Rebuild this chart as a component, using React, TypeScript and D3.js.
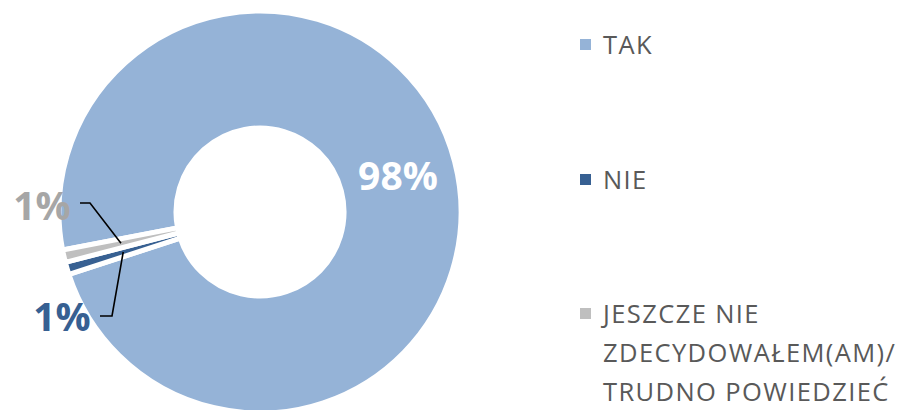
import React from "react";
import * as d3 from "d3";

const categories = ["TAK", "NIE", "JESZCZE NIE ZDECYDOWAŁEM(AM)/ TRUDNO POWIEDZIEĆ"];
const legendLines = [["TAK"], ["NIE"], ["JESZCZE NIE", "ZDECYDOWAŁEM(AM)/", "TRUDNO POWIEDZIEĆ"]];
const values = [98, 1, 1];
const labels = ["98%", "1%", "1%"];
const colors = ["#95b3d7", "#376092", "#bfbfbf"];
const labelColors = ["#ffffff", "#376092", "#a6a6a6"];

const W = 912;
const H = 410;
const cx = 260;
const cy = 212;
const outerR = 201;
const innerR = 84;
const startDeg = 259.1;

export default function App() {
  const pie = d3
    .pie<number>()
    .sort(null)
    .startAngle((startDeg * Math.PI) / 180)
    .endAngle(((startDeg + 360) * Math.PI) / 180);
  const slices = pie(values);
  const arc = d3.arc<d3.PieArcDatum<number>>().innerRadius(innerR).outerRadius(outerR);

  // positions of the outside labels for the small slices
  const outside = [
    null,
    { x: 62, y: 331, elbow: 112, lineY: 316, textEnd: 100 },
    { x: 42, y: 220, elbow: 90, lineY: 203, textEnd: 80 },
  ];

  const legendY = [45, 180, 314];

  return (
    <svg width={W} height={H} style={{ position: "absolute", left: 0, top: 0 }}>
      <rect width={W} height={H} fill="#fff" />
      <g transform={`translate(${cx},${cy})`}>
        {slices.map((s, i) => (
          <path key={i} d={arc(s) || ""} fill={colors[i]} stroke="#fff" strokeWidth={5} strokeLinejoin="miter" />
        ))}
      </g>
      {slices.map((s, i) => {
        const [x, y] = arc.centroid(s);
        const o = outside[i];
        if (!o) {
          return (
            <text
              key={i}
              x={cx + x}
              y={cy + y}
              dy="0.35em"
              textAnchor="middle"
              fill={labelColors[i]}
              fontFamily="Open Sans, sans-serif"
              fontWeight={700}
              fontSize={39}
            >
              {labels[i]}
            </text>
          );
        }
        return (
          <g key={i}>
            <polyline
              points={`${o.textEnd},${o.lineY} ${o.elbow},${o.lineY} ${cx + x},${cy + y}`}
              fill="none"
              stroke="#000"
              strokeWidth={1.6}
            />
            <text
              x={o.x}
              y={o.y}
              textAnchor="middle"
              fill={labelColors[i]}
              fontFamily="Open Sans, sans-serif"
              fontWeight={700}
              fontSize={39}
            >
              {labels[i]}
            </text>
          </g>
        );
      })}
      <g fontFamily="Open Sans, sans-serif" fontSize={25.5} letterSpacing={1.4} fill="#595959">
        {categories.map((c, i) => (
          <g key={c} transform={`translate(580,${legendY[i]})`}>
            <rect x={0} y={-6} width={11} height={11} fill={colors[i]} />
            {legendLines[i].map((ln, j) => (
              <text key={j} x={23} y={j * 39 + 8.5}>
                {ln}
              </text>
            ))}
          </g>
        ))}
      </g>
    </svg>
  );
}
